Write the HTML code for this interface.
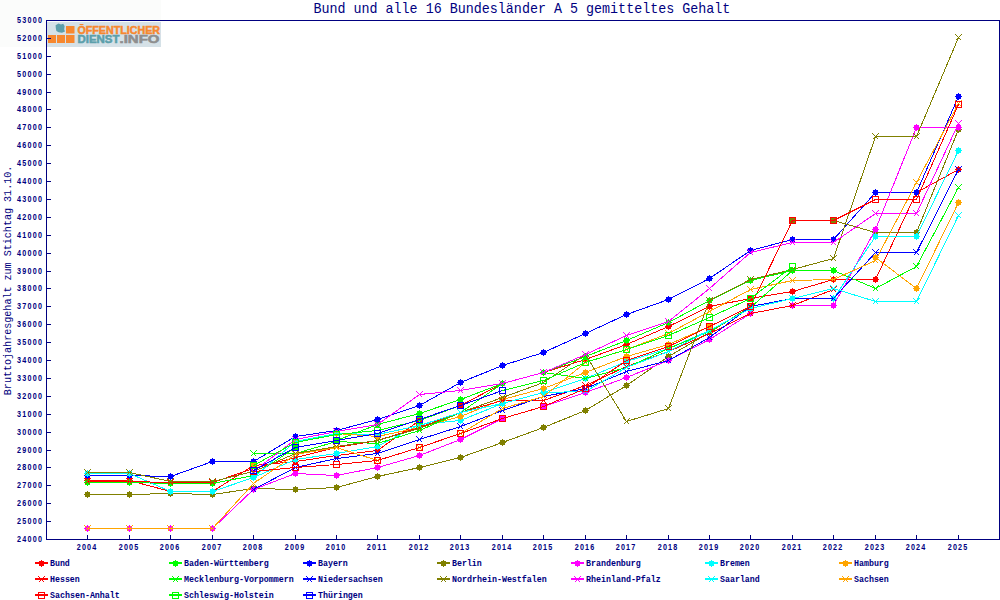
<!DOCTYPE html>
<html><head><meta charset="utf-8"><style>
html,body{margin:0;padding:0;background:#fff;}
body{width:1000px;height:600px;overflow:hidden;position:relative;}
svg{position:absolute;left:0;top:0;}
text{font-family:"Liberation Mono",monospace;fill:#000080;}
.ax{font-family:"Liberation Sans",sans-serif;font-weight:bold;font-size:9.2px;}
.lg{font-family:"Liberation Mono",monospace;font-weight:bold;font-size:8.4px;}
</style></head><body>
<svg width="1000" height="600" viewBox="0 0 1000 600" shape-rendering="crispEdges">
<rect x="0" y="0" width="1000" height="600" fill="#ffffff"/>
<rect x="0" y="0" width="161" height="47" fill="#fbfcfb"/>
<!-- logo -->
<g shape-rendering="auto">
<rect x="47" y="22" width="114" height="25" fill="#d5e1e7"/>
<rect x="48" y="35" width="8" height="8" fill="#f7882f"/>
<rect x="57" y="35" width="8" height="8" fill="#f7882f"/>
<rect x="66" y="35" width="8.5" height="8" fill="#f7882f"/>
<rect x="66" y="26" width="8.5" height="7.5" fill="#f7882f"/>
<path d="M55.6,25.2 L58.5,23.6 L61,24.4 L63.2,23.8 L64.6,26 L64.2,29.5 L65,31.6 L62,32.8 L58.6,32.2 L56.4,31 L55.8,28 Z" fill="#5c9fab"/>
<text x="77.5" y="33.6" style="font-family:'Liberation Sans',sans-serif;font-weight:bold;font-size:10.2px;fill:#f7882f;stroke:#f7882f;stroke-width:0.5px" textLength="82.5" lengthAdjust="spacingAndGlyphs">OFFENTLICHER</text>
<rect x="79.6" y="24" width="3.8" height="1.1" fill="#f7882f"/>
<text x="77.5" y="42.9" style="font-family:'Liberation Sans',sans-serif;font-weight:bold;font-size:10.2px;fill:#5c9fab;stroke:#5c9fab;stroke-width:0.5px" textLength="42" lengthAdjust="spacingAndGlyphs">DIENST</text>
<text x="119.5" y="42.9" style="font-family:'Liberation Sans',sans-serif;font-weight:bold;font-size:10.2px;fill:#8e8e8e;stroke:#8e8e8e;stroke-width:0.5px" textLength="40" lengthAdjust="spacingAndGlyphs">.INFO</text>
</g>
<!-- title -->
<text x="313.4" y="12.8" style="font-size:14.2px" textLength="417" lengthAdjust="spacingAndGlyphs">Bund und alle 16 Bundesländer A 5 gemitteltes Gehalt</text>
<!-- y axis title -->
<text transform="translate(11.2,395.2) rotate(-90)" x="0" y="0" style="font-size:11.6px" textLength="229.5" lengthAdjust="spacingAndGlyphs">Bruttojahresgehalt zum Stichtag 31.10.</text>
<!-- series -->
<g shape-rendering="crispEdges" stroke-width="1">
<polyline points="87.5,480.5 129.5,480.5 170.5,491.5 212.5,491.5 253.5,465.5 295.5,461.5 336.5,455.5 377.5,450.5 419.5,420.5 460.5,405.5 502.5,383.5 543.5,372.5 585.5,359.5 626.5,344.5 668.5,326.5 709.5,306.5 750.5,298.5 792.5,291.5 833.5,279.5 875.5,279.5 916.5,192.5 958.5,169.5" fill="none" stroke="#ff0000" stroke-width="1"/>
<path d="M87,477L88,477L88,478L90,478L90,480L91,480L91,481L90,481L90,483L88,483L88,484L87,484L87,483L85,483L85,481L84,481L84,480L85,480L85,478L87,478Z" fill="#ff0000"/>
<path d="M129,477L130,477L130,478L132,478L132,480L133,480L133,481L132,481L132,483L130,483L130,484L129,484L129,483L127,483L127,481L126,481L126,480L127,480L127,478L129,478Z" fill="#ff0000"/>
<path d="M170,488L171,488L171,489L173,489L173,491L174,491L174,492L173,492L173,494L171,494L171,495L170,495L170,494L168,494L168,492L167,492L167,491L168,491L168,489L170,489Z" fill="#ff0000"/>
<path d="M212,488L213,488L213,489L215,489L215,491L216,491L216,492L215,492L215,494L213,494L213,495L212,495L212,494L210,494L210,492L209,492L209,491L210,491L210,489L212,489Z" fill="#ff0000"/>
<path d="M253,462L254,462L254,463L256,463L256,465L257,465L257,466L256,466L256,468L254,468L254,469L253,469L253,468L251,468L251,466L250,466L250,465L251,465L251,463L253,463Z" fill="#ff0000"/>
<path d="M295,458L296,458L296,459L298,459L298,461L299,461L299,462L298,462L298,464L296,464L296,465L295,465L295,464L293,464L293,462L292,462L292,461L293,461L293,459L295,459Z" fill="#ff0000"/>
<path d="M336,452L337,452L337,453L339,453L339,455L340,455L340,456L339,456L339,458L337,458L337,459L336,459L336,458L334,458L334,456L333,456L333,455L334,455L334,453L336,453Z" fill="#ff0000"/>
<path d="M377,447L378,447L378,448L380,448L380,450L381,450L381,451L380,451L380,453L378,453L378,454L377,454L377,453L375,453L375,451L374,451L374,450L375,450L375,448L377,448Z" fill="#ff0000"/>
<path d="M419,417L420,417L420,418L422,418L422,420L423,420L423,421L422,421L422,423L420,423L420,424L419,424L419,423L417,423L417,421L416,421L416,420L417,420L417,418L419,418Z" fill="#ff0000"/>
<path d="M460,402L461,402L461,403L463,403L463,405L464,405L464,406L463,406L463,408L461,408L461,409L460,409L460,408L458,408L458,406L457,406L457,405L458,405L458,403L460,403Z" fill="#ff0000"/>
<path d="M502,380L503,380L503,381L505,381L505,383L506,383L506,384L505,384L505,386L503,386L503,387L502,387L502,386L500,386L500,384L499,384L499,383L500,383L500,381L502,381Z" fill="#ff0000"/>
<path d="M543,369L544,369L544,370L546,370L546,372L547,372L547,373L546,373L546,375L544,375L544,376L543,376L543,375L541,375L541,373L540,373L540,372L541,372L541,370L543,370Z" fill="#ff0000"/>
<path d="M585,356L586,356L586,357L588,357L588,359L589,359L589,360L588,360L588,362L586,362L586,363L585,363L585,362L583,362L583,360L582,360L582,359L583,359L583,357L585,357Z" fill="#ff0000"/>
<path d="M626,341L627,341L627,342L629,342L629,344L630,344L630,345L629,345L629,347L627,347L627,348L626,348L626,347L624,347L624,345L623,345L623,344L624,344L624,342L626,342Z" fill="#ff0000"/>
<path d="M668,323L669,323L669,324L671,324L671,326L672,326L672,327L671,327L671,329L669,329L669,330L668,330L668,329L666,329L666,327L665,327L665,326L666,326L666,324L668,324Z" fill="#ff0000"/>
<path d="M709,303L710,303L710,304L712,304L712,306L713,306L713,307L712,307L712,309L710,309L710,310L709,310L709,309L707,309L707,307L706,307L706,306L707,306L707,304L709,304Z" fill="#ff0000"/>
<path d="M750,295L751,295L751,296L753,296L753,298L754,298L754,299L753,299L753,301L751,301L751,302L750,302L750,301L748,301L748,299L747,299L747,298L748,298L748,296L750,296Z" fill="#ff0000"/>
<path d="M792,288L793,288L793,289L795,289L795,291L796,291L796,292L795,292L795,294L793,294L793,295L792,295L792,294L790,294L790,292L789,292L789,291L790,291L790,289L792,289Z" fill="#ff0000"/>
<path d="M833,276L834,276L834,277L836,277L836,279L837,279L837,280L836,280L836,282L834,282L834,283L833,283L833,282L831,282L831,280L830,280L830,279L831,279L831,277L833,277Z" fill="#ff0000"/>
<path d="M875,276L876,276L876,277L878,277L878,279L879,279L879,280L878,280L878,282L876,282L876,283L875,283L875,282L873,282L873,280L872,280L872,279L873,279L873,277L875,277Z" fill="#ff0000"/>
<path d="M916,189L917,189L917,190L919,190L919,192L920,192L920,193L919,193L919,195L917,195L917,196L916,196L916,195L914,195L914,193L913,193L913,192L914,192L914,190L916,190Z" fill="#ff0000"/>
<path d="M958,166L959,166L959,167L961,167L961,169L962,169L962,170L961,170L961,172L959,172L959,173L958,173L958,172L956,172L956,170L955,170L955,169L956,169L956,167L958,167Z" fill="#ff0000"/>
<polyline points="87.5,482.5 129.5,482.5 170.5,483.5 212.5,483.5 253.5,475.5 295.5,447.5 336.5,440.5 377.5,424.5 419.5,413.5 460.5,399.5 502.5,383.5 543.5,372.5 585.5,356.5 626.5,340.5 668.5,322.5 709.5,300.5 750.5,280.5 792.5,270.5 833.5,270.5" fill="none" stroke="#00ff00" stroke-width="1"/>
<path d="M87,479L88,479L88,480L90,480L90,482L91,482L91,483L90,483L90,485L88,485L88,486L87,486L87,485L85,485L85,483L84,483L84,482L85,482L85,480L87,480Z" fill="#00ff00"/>
<path d="M129,479L130,479L130,480L132,480L132,482L133,482L133,483L132,483L132,485L130,485L130,486L129,486L129,485L127,485L127,483L126,483L126,482L127,482L127,480L129,480Z" fill="#00ff00"/>
<path d="M170,480L171,480L171,481L173,481L173,483L174,483L174,484L173,484L173,486L171,486L171,487L170,487L170,486L168,486L168,484L167,484L167,483L168,483L168,481L170,481Z" fill="#00ff00"/>
<path d="M212,480L213,480L213,481L215,481L215,483L216,483L216,484L215,484L215,486L213,486L213,487L212,487L212,486L210,486L210,484L209,484L209,483L210,483L210,481L212,481Z" fill="#00ff00"/>
<path d="M253,472L254,472L254,473L256,473L256,475L257,475L257,476L256,476L256,478L254,478L254,479L253,479L253,478L251,478L251,476L250,476L250,475L251,475L251,473L253,473Z" fill="#00ff00"/>
<path d="M295,444L296,444L296,445L298,445L298,447L299,447L299,448L298,448L298,450L296,450L296,451L295,451L295,450L293,450L293,448L292,448L292,447L293,447L293,445L295,445Z" fill="#00ff00"/>
<path d="M336,437L337,437L337,438L339,438L339,440L340,440L340,441L339,441L339,443L337,443L337,444L336,444L336,443L334,443L334,441L333,441L333,440L334,440L334,438L336,438Z" fill="#00ff00"/>
<path d="M377,421L378,421L378,422L380,422L380,424L381,424L381,425L380,425L380,427L378,427L378,428L377,428L377,427L375,427L375,425L374,425L374,424L375,424L375,422L377,422Z" fill="#00ff00"/>
<path d="M419,410L420,410L420,411L422,411L422,413L423,413L423,414L422,414L422,416L420,416L420,417L419,417L419,416L417,416L417,414L416,414L416,413L417,413L417,411L419,411Z" fill="#00ff00"/>
<path d="M460,396L461,396L461,397L463,397L463,399L464,399L464,400L463,400L463,402L461,402L461,403L460,403L460,402L458,402L458,400L457,400L457,399L458,399L458,397L460,397Z" fill="#00ff00"/>
<path d="M502,380L503,380L503,381L505,381L505,383L506,383L506,384L505,384L505,386L503,386L503,387L502,387L502,386L500,386L500,384L499,384L499,383L500,383L500,381L502,381Z" fill="#00ff00"/>
<path d="M543,369L544,369L544,370L546,370L546,372L547,372L547,373L546,373L546,375L544,375L544,376L543,376L543,375L541,375L541,373L540,373L540,372L541,372L541,370L543,370Z" fill="#00ff00"/>
<path d="M585,353L586,353L586,354L588,354L588,356L589,356L589,357L588,357L588,359L586,359L586,360L585,360L585,359L583,359L583,357L582,357L582,356L583,356L583,354L585,354Z" fill="#00ff00"/>
<path d="M626,337L627,337L627,338L629,338L629,340L630,340L630,341L629,341L629,343L627,343L627,344L626,344L626,343L624,343L624,341L623,341L623,340L624,340L624,338L626,338Z" fill="#00ff00"/>
<path d="M668,319L669,319L669,320L671,320L671,322L672,322L672,323L671,323L671,325L669,325L669,326L668,326L668,325L666,325L666,323L665,323L665,322L666,322L666,320L668,320Z" fill="#00ff00"/>
<path d="M709,297L710,297L710,298L712,298L712,300L713,300L713,301L712,301L712,303L710,303L710,304L709,304L709,303L707,303L707,301L706,301L706,300L707,300L707,298L709,298Z" fill="#00ff00"/>
<path d="M750,277L751,277L751,278L753,278L753,280L754,280L754,281L753,281L753,283L751,283L751,284L750,284L750,283L748,283L748,281L747,281L747,280L748,280L748,278L750,278Z" fill="#00ff00"/>
<path d="M792,267L793,267L793,268L795,268L795,270L796,270L796,271L795,271L795,273L793,273L793,274L792,274L792,273L790,273L790,271L789,271L789,270L790,270L790,268L792,268Z" fill="#00ff00"/>
<path d="M833,267L834,267L834,268L836,268L836,270L837,270L837,271L836,271L836,273L834,273L834,274L833,274L833,273L831,273L831,271L830,271L830,270L831,270L831,268L833,268Z" fill="#00ff00"/>
<polyline points="87.5,475.5 129.5,475.5 170.5,476.5 212.5,461.5 253.5,461.5 295.5,436.5 336.5,430.5 377.5,419.5 419.5,405.5 460.5,382.5 502.5,365.5 543.5,352.5 585.5,333.5 626.5,314.5 668.5,299.5 709.5,278.5 750.5,250.5 792.5,239.5 833.5,239.5 875.5,192.5 916.5,192.5 958.5,96.5" fill="none" stroke="#0000ff" stroke-width="1"/>
<path d="M87,472L88,472L88,473L90,473L90,475L91,475L91,476L90,476L90,478L88,478L88,479L87,479L87,478L85,478L85,476L84,476L84,475L85,475L85,473L87,473Z" fill="#0000ff"/>
<path d="M129,472L130,472L130,473L132,473L132,475L133,475L133,476L132,476L132,478L130,478L130,479L129,479L129,478L127,478L127,476L126,476L126,475L127,475L127,473L129,473Z" fill="#0000ff"/>
<path d="M170,473L171,473L171,474L173,474L173,476L174,476L174,477L173,477L173,479L171,479L171,480L170,480L170,479L168,479L168,477L167,477L167,476L168,476L168,474L170,474Z" fill="#0000ff"/>
<path d="M212,458L213,458L213,459L215,459L215,461L216,461L216,462L215,462L215,464L213,464L213,465L212,465L212,464L210,464L210,462L209,462L209,461L210,461L210,459L212,459Z" fill="#0000ff"/>
<path d="M253,458L254,458L254,459L256,459L256,461L257,461L257,462L256,462L256,464L254,464L254,465L253,465L253,464L251,464L251,462L250,462L250,461L251,461L251,459L253,459Z" fill="#0000ff"/>
<path d="M295,433L296,433L296,434L298,434L298,436L299,436L299,437L298,437L298,439L296,439L296,440L295,440L295,439L293,439L293,437L292,437L292,436L293,436L293,434L295,434Z" fill="#0000ff"/>
<path d="M336,427L337,427L337,428L339,428L339,430L340,430L340,431L339,431L339,433L337,433L337,434L336,434L336,433L334,433L334,431L333,431L333,430L334,430L334,428L336,428Z" fill="#0000ff"/>
<path d="M377,416L378,416L378,417L380,417L380,419L381,419L381,420L380,420L380,422L378,422L378,423L377,423L377,422L375,422L375,420L374,420L374,419L375,419L375,417L377,417Z" fill="#0000ff"/>
<path d="M419,402L420,402L420,403L422,403L422,405L423,405L423,406L422,406L422,408L420,408L420,409L419,409L419,408L417,408L417,406L416,406L416,405L417,405L417,403L419,403Z" fill="#0000ff"/>
<path d="M460,379L461,379L461,380L463,380L463,382L464,382L464,383L463,383L463,385L461,385L461,386L460,386L460,385L458,385L458,383L457,383L457,382L458,382L458,380L460,380Z" fill="#0000ff"/>
<path d="M502,362L503,362L503,363L505,363L505,365L506,365L506,366L505,366L505,368L503,368L503,369L502,369L502,368L500,368L500,366L499,366L499,365L500,365L500,363L502,363Z" fill="#0000ff"/>
<path d="M543,349L544,349L544,350L546,350L546,352L547,352L547,353L546,353L546,355L544,355L544,356L543,356L543,355L541,355L541,353L540,353L540,352L541,352L541,350L543,350Z" fill="#0000ff"/>
<path d="M585,330L586,330L586,331L588,331L588,333L589,333L589,334L588,334L588,336L586,336L586,337L585,337L585,336L583,336L583,334L582,334L582,333L583,333L583,331L585,331Z" fill="#0000ff"/>
<path d="M626,311L627,311L627,312L629,312L629,314L630,314L630,315L629,315L629,317L627,317L627,318L626,318L626,317L624,317L624,315L623,315L623,314L624,314L624,312L626,312Z" fill="#0000ff"/>
<path d="M668,296L669,296L669,297L671,297L671,299L672,299L672,300L671,300L671,302L669,302L669,303L668,303L668,302L666,302L666,300L665,300L665,299L666,299L666,297L668,297Z" fill="#0000ff"/>
<path d="M709,275L710,275L710,276L712,276L712,278L713,278L713,279L712,279L712,281L710,281L710,282L709,282L709,281L707,281L707,279L706,279L706,278L707,278L707,276L709,276Z" fill="#0000ff"/>
<path d="M750,247L751,247L751,248L753,248L753,250L754,250L754,251L753,251L753,253L751,253L751,254L750,254L750,253L748,253L748,251L747,251L747,250L748,250L748,248L750,248Z" fill="#0000ff"/>
<path d="M792,236L793,236L793,237L795,237L795,239L796,239L796,240L795,240L795,242L793,242L793,243L792,243L792,242L790,242L790,240L789,240L789,239L790,239L790,237L792,237Z" fill="#0000ff"/>
<path d="M833,236L834,236L834,237L836,237L836,239L837,239L837,240L836,240L836,242L834,242L834,243L833,243L833,242L831,242L831,240L830,240L830,239L831,239L831,237L833,237Z" fill="#0000ff"/>
<path d="M875,189L876,189L876,190L878,190L878,192L879,192L879,193L878,193L878,195L876,195L876,196L875,196L875,195L873,195L873,193L872,193L872,192L873,192L873,190L875,190Z" fill="#0000ff"/>
<path d="M916,189L917,189L917,190L919,190L919,192L920,192L920,193L919,193L919,195L917,195L917,196L916,196L916,195L914,195L914,193L913,193L913,192L914,192L914,190L916,190Z" fill="#0000ff"/>
<path d="M958,93L959,93L959,94L961,94L961,96L962,96L962,97L961,97L961,99L959,99L959,100L958,100L958,99L956,99L956,97L955,97L955,96L956,96L956,94L958,94Z" fill="#0000ff"/>
<polyline points="87.5,494.5 129.5,494.5 170.5,493.5 212.5,494.5 253.5,488.5 295.5,489.5 336.5,487.5 377.5,476.5 419.5,467.5 460.5,457.5 502.5,442.5 543.5,427.5 585.5,410.5 626.5,385.5 668.5,356.5 709.5,332.5 750.5,306.5 792.5,220.5 833.5,220.5 875.5,232.5 916.5,232.5 958.5,129.5" fill="none" stroke="#808000" stroke-width="1"/>
<path d="M87,491L88,491L88,492L90,492L90,494L91,494L91,495L90,495L90,497L88,497L88,498L87,498L87,497L85,497L85,495L84,495L84,494L85,494L85,492L87,492Z" fill="#808000"/>
<path d="M129,491L130,491L130,492L132,492L132,494L133,494L133,495L132,495L132,497L130,497L130,498L129,498L129,497L127,497L127,495L126,495L126,494L127,494L127,492L129,492Z" fill="#808000"/>
<path d="M170,490L171,490L171,491L173,491L173,493L174,493L174,494L173,494L173,496L171,496L171,497L170,497L170,496L168,496L168,494L167,494L167,493L168,493L168,491L170,491Z" fill="#808000"/>
<path d="M212,491L213,491L213,492L215,492L215,494L216,494L216,495L215,495L215,497L213,497L213,498L212,498L212,497L210,497L210,495L209,495L209,494L210,494L210,492L212,492Z" fill="#808000"/>
<path d="M253,485L254,485L254,486L256,486L256,488L257,488L257,489L256,489L256,491L254,491L254,492L253,492L253,491L251,491L251,489L250,489L250,488L251,488L251,486L253,486Z" fill="#808000"/>
<path d="M295,486L296,486L296,487L298,487L298,489L299,489L299,490L298,490L298,492L296,492L296,493L295,493L295,492L293,492L293,490L292,490L292,489L293,489L293,487L295,487Z" fill="#808000"/>
<path d="M336,484L337,484L337,485L339,485L339,487L340,487L340,488L339,488L339,490L337,490L337,491L336,491L336,490L334,490L334,488L333,488L333,487L334,487L334,485L336,485Z" fill="#808000"/>
<path d="M377,473L378,473L378,474L380,474L380,476L381,476L381,477L380,477L380,479L378,479L378,480L377,480L377,479L375,479L375,477L374,477L374,476L375,476L375,474L377,474Z" fill="#808000"/>
<path d="M419,464L420,464L420,465L422,465L422,467L423,467L423,468L422,468L422,470L420,470L420,471L419,471L419,470L417,470L417,468L416,468L416,467L417,467L417,465L419,465Z" fill="#808000"/>
<path d="M460,454L461,454L461,455L463,455L463,457L464,457L464,458L463,458L463,460L461,460L461,461L460,461L460,460L458,460L458,458L457,458L457,457L458,457L458,455L460,455Z" fill="#808000"/>
<path d="M502,439L503,439L503,440L505,440L505,442L506,442L506,443L505,443L505,445L503,445L503,446L502,446L502,445L500,445L500,443L499,443L499,442L500,442L500,440L502,440Z" fill="#808000"/>
<path d="M543,424L544,424L544,425L546,425L546,427L547,427L547,428L546,428L546,430L544,430L544,431L543,431L543,430L541,430L541,428L540,428L540,427L541,427L541,425L543,425Z" fill="#808000"/>
<path d="M585,407L586,407L586,408L588,408L588,410L589,410L589,411L588,411L588,413L586,413L586,414L585,414L585,413L583,413L583,411L582,411L582,410L583,410L583,408L585,408Z" fill="#808000"/>
<path d="M626,382L627,382L627,383L629,383L629,385L630,385L630,386L629,386L629,388L627,388L627,389L626,389L626,388L624,388L624,386L623,386L623,385L624,385L624,383L626,383Z" fill="#808000"/>
<path d="M668,353L669,353L669,354L671,354L671,356L672,356L672,357L671,357L671,359L669,359L669,360L668,360L668,359L666,359L666,357L665,357L665,356L666,356L666,354L668,354Z" fill="#808000"/>
<path d="M709,329L710,329L710,330L712,330L712,332L713,332L713,333L712,333L712,335L710,335L710,336L709,336L709,335L707,335L707,333L706,333L706,332L707,332L707,330L709,330Z" fill="#808000"/>
<path d="M750,303L751,303L751,304L753,304L753,306L754,306L754,307L753,307L753,309L751,309L751,310L750,310L750,309L748,309L748,307L747,307L747,306L748,306L748,304L750,304Z" fill="#808000"/>
<path d="M792,217L793,217L793,218L795,218L795,220L796,220L796,221L795,221L795,223L793,223L793,224L792,224L792,223L790,223L790,221L789,221L789,220L790,220L790,218L792,218Z" fill="#808000"/>
<path d="M833,217L834,217L834,218L836,218L836,220L837,220L837,221L836,221L836,223L834,223L834,224L833,224L833,223L831,223L831,221L830,221L830,220L831,220L831,218L833,218Z" fill="#808000"/>
<path d="M875,229L876,229L876,230L878,230L878,232L879,232L879,233L878,233L878,235L876,235L876,236L875,236L875,235L873,235L873,233L872,233L872,232L873,232L873,230L875,230Z" fill="#808000"/>
<path d="M916,229L917,229L917,230L919,230L919,232L920,232L920,233L919,233L919,235L917,235L917,236L916,236L916,235L914,235L914,233L913,233L913,232L914,232L914,230L916,230Z" fill="#808000"/>
<path d="M958,126L959,126L959,127L961,127L961,129L962,129L962,130L961,130L961,132L959,132L959,133L958,133L958,132L956,132L956,130L955,130L955,129L956,129L956,127L958,127Z" fill="#808000"/>
<polyline points="87.5,528.5 129.5,528.5 170.5,528.5 212.5,528.5 253.5,489.5 295.5,473.5 336.5,475.5 377.5,467.5 419.5,455.5 460.5,439.5 502.5,418.5 543.5,406.5 585.5,392.5 626.5,377.5 668.5,360.5 709.5,339.5 750.5,313.5 792.5,305.5 833.5,305.5 875.5,229.5 916.5,127.5 958.5,127.5" fill="none" stroke="#ff00ff" stroke-width="1"/>
<path d="M87,525L88,525L88,526L90,526L90,528L91,528L91,529L90,529L90,531L88,531L88,532L87,532L87,531L85,531L85,529L84,529L84,528L85,528L85,526L87,526Z" fill="#ff00ff"/>
<path d="M129,525L130,525L130,526L132,526L132,528L133,528L133,529L132,529L132,531L130,531L130,532L129,532L129,531L127,531L127,529L126,529L126,528L127,528L127,526L129,526Z" fill="#ff00ff"/>
<path d="M170,525L171,525L171,526L173,526L173,528L174,528L174,529L173,529L173,531L171,531L171,532L170,532L170,531L168,531L168,529L167,529L167,528L168,528L168,526L170,526Z" fill="#ff00ff"/>
<path d="M212,525L213,525L213,526L215,526L215,528L216,528L216,529L215,529L215,531L213,531L213,532L212,532L212,531L210,531L210,529L209,529L209,528L210,528L210,526L212,526Z" fill="#ff00ff"/>
<path d="M253,486L254,486L254,487L256,487L256,489L257,489L257,490L256,490L256,492L254,492L254,493L253,493L253,492L251,492L251,490L250,490L250,489L251,489L251,487L253,487Z" fill="#ff00ff"/>
<path d="M295,470L296,470L296,471L298,471L298,473L299,473L299,474L298,474L298,476L296,476L296,477L295,477L295,476L293,476L293,474L292,474L292,473L293,473L293,471L295,471Z" fill="#ff00ff"/>
<path d="M336,472L337,472L337,473L339,473L339,475L340,475L340,476L339,476L339,478L337,478L337,479L336,479L336,478L334,478L334,476L333,476L333,475L334,475L334,473L336,473Z" fill="#ff00ff"/>
<path d="M377,464L378,464L378,465L380,465L380,467L381,467L381,468L380,468L380,470L378,470L378,471L377,471L377,470L375,470L375,468L374,468L374,467L375,467L375,465L377,465Z" fill="#ff00ff"/>
<path d="M419,452L420,452L420,453L422,453L422,455L423,455L423,456L422,456L422,458L420,458L420,459L419,459L419,458L417,458L417,456L416,456L416,455L417,455L417,453L419,453Z" fill="#ff00ff"/>
<path d="M460,436L461,436L461,437L463,437L463,439L464,439L464,440L463,440L463,442L461,442L461,443L460,443L460,442L458,442L458,440L457,440L457,439L458,439L458,437L460,437Z" fill="#ff00ff"/>
<path d="M502,415L503,415L503,416L505,416L505,418L506,418L506,419L505,419L505,421L503,421L503,422L502,422L502,421L500,421L500,419L499,419L499,418L500,418L500,416L502,416Z" fill="#ff00ff"/>
<path d="M543,403L544,403L544,404L546,404L546,406L547,406L547,407L546,407L546,409L544,409L544,410L543,410L543,409L541,409L541,407L540,407L540,406L541,406L541,404L543,404Z" fill="#ff00ff"/>
<path d="M585,389L586,389L586,390L588,390L588,392L589,392L589,393L588,393L588,395L586,395L586,396L585,396L585,395L583,395L583,393L582,393L582,392L583,392L583,390L585,390Z" fill="#ff00ff"/>
<path d="M626,374L627,374L627,375L629,375L629,377L630,377L630,378L629,378L629,380L627,380L627,381L626,381L626,380L624,380L624,378L623,378L623,377L624,377L624,375L626,375Z" fill="#ff00ff"/>
<path d="M668,357L669,357L669,358L671,358L671,360L672,360L672,361L671,361L671,363L669,363L669,364L668,364L668,363L666,363L666,361L665,361L665,360L666,360L666,358L668,358Z" fill="#ff00ff"/>
<path d="M709,336L710,336L710,337L712,337L712,339L713,339L713,340L712,340L712,342L710,342L710,343L709,343L709,342L707,342L707,340L706,340L706,339L707,339L707,337L709,337Z" fill="#ff00ff"/>
<path d="M750,310L751,310L751,311L753,311L753,313L754,313L754,314L753,314L753,316L751,316L751,317L750,317L750,316L748,316L748,314L747,314L747,313L748,313L748,311L750,311Z" fill="#ff00ff"/>
<path d="M792,302L793,302L793,303L795,303L795,305L796,305L796,306L795,306L795,308L793,308L793,309L792,309L792,308L790,308L790,306L789,306L789,305L790,305L790,303L792,303Z" fill="#ff00ff"/>
<path d="M833,302L834,302L834,303L836,303L836,305L837,305L837,306L836,306L836,308L834,308L834,309L833,309L833,308L831,308L831,306L830,306L830,305L831,305L831,303L833,303Z" fill="#ff00ff"/>
<path d="M875,226L876,226L876,227L878,227L878,229L879,229L879,230L878,230L878,232L876,232L876,233L875,233L875,232L873,232L873,230L872,230L872,229L873,229L873,227L875,227Z" fill="#ff00ff"/>
<path d="M916,124L917,124L917,125L919,125L919,127L920,127L920,128L919,128L919,130L917,130L917,131L916,131L916,130L914,130L914,128L913,128L913,127L914,127L914,125L916,125Z" fill="#ff00ff"/>
<path d="M958,124L959,124L959,125L961,125L961,127L962,127L962,128L961,128L961,130L959,130L959,131L958,131L958,130L956,130L956,128L955,128L955,127L956,127L956,125L958,125Z" fill="#ff00ff"/>
<polyline points="87.5,473.5 129.5,473.5 170.5,491.5 212.5,491.5 253.5,477.5 295.5,459.5 336.5,453.5 377.5,446.5 419.5,424.5 460.5,420.5 502.5,403.5 543.5,392.5 585.5,378.5 626.5,361.5 668.5,348.5 709.5,330.5 750.5,308.5 792.5,298.5 833.5,298.5 875.5,236.5 916.5,236.5 958.5,150.5" fill="none" stroke="#00ffff" stroke-width="1"/>
<path d="M87,470L88,470L88,471L90,471L90,473L91,473L91,474L90,474L90,476L88,476L88,477L87,477L87,476L85,476L85,474L84,474L84,473L85,473L85,471L87,471Z" fill="#00ffff"/>
<path d="M129,470L130,470L130,471L132,471L132,473L133,473L133,474L132,474L132,476L130,476L130,477L129,477L129,476L127,476L127,474L126,474L126,473L127,473L127,471L129,471Z" fill="#00ffff"/>
<path d="M170,488L171,488L171,489L173,489L173,491L174,491L174,492L173,492L173,494L171,494L171,495L170,495L170,494L168,494L168,492L167,492L167,491L168,491L168,489L170,489Z" fill="#00ffff"/>
<path d="M212,488L213,488L213,489L215,489L215,491L216,491L216,492L215,492L215,494L213,494L213,495L212,495L212,494L210,494L210,492L209,492L209,491L210,491L210,489L212,489Z" fill="#00ffff"/>
<path d="M253,474L254,474L254,475L256,475L256,477L257,477L257,478L256,478L256,480L254,480L254,481L253,481L253,480L251,480L251,478L250,478L250,477L251,477L251,475L253,475Z" fill="#00ffff"/>
<path d="M295,456L296,456L296,457L298,457L298,459L299,459L299,460L298,460L298,462L296,462L296,463L295,463L295,462L293,462L293,460L292,460L292,459L293,459L293,457L295,457Z" fill="#00ffff"/>
<path d="M336,450L337,450L337,451L339,451L339,453L340,453L340,454L339,454L339,456L337,456L337,457L336,457L336,456L334,456L334,454L333,454L333,453L334,453L334,451L336,451Z" fill="#00ffff"/>
<path d="M377,443L378,443L378,444L380,444L380,446L381,446L381,447L380,447L380,449L378,449L378,450L377,450L377,449L375,449L375,447L374,447L374,446L375,446L375,444L377,444Z" fill="#00ffff"/>
<path d="M419,421L420,421L420,422L422,422L422,424L423,424L423,425L422,425L422,427L420,427L420,428L419,428L419,427L417,427L417,425L416,425L416,424L417,424L417,422L419,422Z" fill="#00ffff"/>
<path d="M460,417L461,417L461,418L463,418L463,420L464,420L464,421L463,421L463,423L461,423L461,424L460,424L460,423L458,423L458,421L457,421L457,420L458,420L458,418L460,418Z" fill="#00ffff"/>
<path d="M502,400L503,400L503,401L505,401L505,403L506,403L506,404L505,404L505,406L503,406L503,407L502,407L502,406L500,406L500,404L499,404L499,403L500,403L500,401L502,401Z" fill="#00ffff"/>
<path d="M543,389L544,389L544,390L546,390L546,392L547,392L547,393L546,393L546,395L544,395L544,396L543,396L543,395L541,395L541,393L540,393L540,392L541,392L541,390L543,390Z" fill="#00ffff"/>
<path d="M585,375L586,375L586,376L588,376L588,378L589,378L589,379L588,379L588,381L586,381L586,382L585,382L585,381L583,381L583,379L582,379L582,378L583,378L583,376L585,376Z" fill="#00ffff"/>
<path d="M626,358L627,358L627,359L629,359L629,361L630,361L630,362L629,362L629,364L627,364L627,365L626,365L626,364L624,364L624,362L623,362L623,361L624,361L624,359L626,359Z" fill="#00ffff"/>
<path d="M668,345L669,345L669,346L671,346L671,348L672,348L672,349L671,349L671,351L669,351L669,352L668,352L668,351L666,351L666,349L665,349L665,348L666,348L666,346L668,346Z" fill="#00ffff"/>
<path d="M709,327L710,327L710,328L712,328L712,330L713,330L713,331L712,331L712,333L710,333L710,334L709,334L709,333L707,333L707,331L706,331L706,330L707,330L707,328L709,328Z" fill="#00ffff"/>
<path d="M750,305L751,305L751,306L753,306L753,308L754,308L754,309L753,309L753,311L751,311L751,312L750,312L750,311L748,311L748,309L747,309L747,308L748,308L748,306L750,306Z" fill="#00ffff"/>
<path d="M792,295L793,295L793,296L795,296L795,298L796,298L796,299L795,299L795,301L793,301L793,302L792,302L792,301L790,301L790,299L789,299L789,298L790,298L790,296L792,296Z" fill="#00ffff"/>
<path d="M833,295L834,295L834,296L836,296L836,298L837,298L837,299L836,299L836,301L834,301L834,302L833,302L833,301L831,301L831,299L830,299L830,298L831,298L831,296L833,296Z" fill="#00ffff"/>
<path d="M875,233L876,233L876,234L878,234L878,236L879,236L879,237L878,237L878,239L876,239L876,240L875,240L875,239L873,239L873,237L872,237L872,236L873,236L873,234L875,234Z" fill="#00ffff"/>
<path d="M916,233L917,233L917,234L919,234L919,236L920,236L920,237L919,237L919,239L917,239L917,240L916,240L916,239L914,239L914,237L913,237L913,236L914,236L914,234L916,234Z" fill="#00ffff"/>
<path d="M958,147L959,147L959,148L961,148L961,150L962,150L962,151L961,151L961,153L959,153L959,154L958,154L958,153L956,153L956,151L955,151L955,150L956,150L956,148L958,148Z" fill="#00ffff"/>
<polyline points="253.5,465.5 295.5,442.5 336.5,433.5 377.5,436.5 419.5,427.5 460.5,416.5 502.5,399.5 543.5,388.5 585.5,372.5 626.5,356.5 668.5,344.5 709.5,326.5 750.5,306.5" fill="none" stroke="#ffa500" stroke-width="1"/>
<polyline points="875.5,257.5 916.5,288.5 958.5,202.5" fill="none" stroke="#ffa500" stroke-width="1"/>
<path d="M253,462L254,462L254,463L256,463L256,465L257,465L257,466L256,466L256,468L254,468L254,469L253,469L253,468L251,468L251,466L250,466L250,465L251,465L251,463L253,463Z" fill="#ffa500"/>
<path d="M295,439L296,439L296,440L298,440L298,442L299,442L299,443L298,443L298,445L296,445L296,446L295,446L295,445L293,445L293,443L292,443L292,442L293,442L293,440L295,440Z" fill="#ffa500"/>
<path d="M336,430L337,430L337,431L339,431L339,433L340,433L340,434L339,434L339,436L337,436L337,437L336,437L336,436L334,436L334,434L333,434L333,433L334,433L334,431L336,431Z" fill="#ffa500"/>
<path d="M377,433L378,433L378,434L380,434L380,436L381,436L381,437L380,437L380,439L378,439L378,440L377,440L377,439L375,439L375,437L374,437L374,436L375,436L375,434L377,434Z" fill="#ffa500"/>
<path d="M419,424L420,424L420,425L422,425L422,427L423,427L423,428L422,428L422,430L420,430L420,431L419,431L419,430L417,430L417,428L416,428L416,427L417,427L417,425L419,425Z" fill="#ffa500"/>
<path d="M460,413L461,413L461,414L463,414L463,416L464,416L464,417L463,417L463,419L461,419L461,420L460,420L460,419L458,419L458,417L457,417L457,416L458,416L458,414L460,414Z" fill="#ffa500"/>
<path d="M502,396L503,396L503,397L505,397L505,399L506,399L506,400L505,400L505,402L503,402L503,403L502,403L502,402L500,402L500,400L499,400L499,399L500,399L500,397L502,397Z" fill="#ffa500"/>
<path d="M543,385L544,385L544,386L546,386L546,388L547,388L547,389L546,389L546,391L544,391L544,392L543,392L543,391L541,391L541,389L540,389L540,388L541,388L541,386L543,386Z" fill="#ffa500"/>
<path d="M585,369L586,369L586,370L588,370L588,372L589,372L589,373L588,373L588,375L586,375L586,376L585,376L585,375L583,375L583,373L582,373L582,372L583,372L583,370L585,370Z" fill="#ffa500"/>
<path d="M626,353L627,353L627,354L629,354L629,356L630,356L630,357L629,357L629,359L627,359L627,360L626,360L626,359L624,359L624,357L623,357L623,356L624,356L624,354L626,354Z" fill="#ffa500"/>
<path d="M668,341L669,341L669,342L671,342L671,344L672,344L672,345L671,345L671,347L669,347L669,348L668,348L668,347L666,347L666,345L665,345L665,344L666,344L666,342L668,342Z" fill="#ffa500"/>
<path d="M709,323L710,323L710,324L712,324L712,326L713,326L713,327L712,327L712,329L710,329L710,330L709,330L709,329L707,329L707,327L706,327L706,326L707,326L707,324L709,324Z" fill="#ffa500"/>
<path d="M750,303L751,303L751,304L753,304L753,306L754,306L754,307L753,307L753,309L751,309L751,310L750,310L750,309L748,309L748,307L747,307L747,306L748,306L748,304L750,304Z" fill="#ffa500"/>
<path d="M875,254L876,254L876,255L878,255L878,257L879,257L879,258L878,258L878,260L876,260L876,261L875,261L875,260L873,260L873,258L872,258L872,257L873,257L873,255L875,255Z" fill="#ffa500"/>
<path d="M916,285L917,285L917,286L919,286L919,288L920,288L920,289L919,289L919,291L917,291L917,292L916,292L916,291L914,291L914,289L913,289L913,288L914,288L914,286L916,286Z" fill="#ffa500"/>
<path d="M958,199L959,199L959,200L961,200L961,202L962,202L962,203L961,203L961,205L959,205L959,206L958,206L958,205L956,205L956,203L955,203L955,202L956,202L956,200L958,200Z" fill="#ffa500"/>
<polyline points="87.5,481.5 129.5,481.5 170.5,482.5 212.5,482.5 253.5,468.5 295.5,457.5 336.5,447.5 377.5,440.5 419.5,427.5 460.5,412.5 502.5,400.5 543.5,400.5 585.5,385.5 626.5,366.5 668.5,351.5 709.5,333.5 750.5,313.5 792.5,305.5 833.5,289.5" fill="none" stroke="#ff0000" stroke-width="1"/>
<path d="M84.5,478.5L90.5,484.5M84.5,484.5L90.5,478.5" stroke="#ff0000" fill="none"/>
<path d="M126.5,478.5L132.5,484.5M126.5,484.5L132.5,478.5" stroke="#ff0000" fill="none"/>
<path d="M167.5,479.5L173.5,485.5M167.5,485.5L173.5,479.5" stroke="#ff0000" fill="none"/>
<path d="M209.5,479.5L215.5,485.5M209.5,485.5L215.5,479.5" stroke="#ff0000" fill="none"/>
<path d="M250.5,465.5L256.5,471.5M250.5,471.5L256.5,465.5" stroke="#ff0000" fill="none"/>
<path d="M292.5,454.5L298.5,460.5M292.5,460.5L298.5,454.5" stroke="#ff0000" fill="none"/>
<path d="M333.5,444.5L339.5,450.5M333.5,450.5L339.5,444.5" stroke="#ff0000" fill="none"/>
<path d="M374.5,437.5L380.5,443.5M374.5,443.5L380.5,437.5" stroke="#ff0000" fill="none"/>
<path d="M416.5,424.5L422.5,430.5M416.5,430.5L422.5,424.5" stroke="#ff0000" fill="none"/>
<path d="M457.5,409.5L463.5,415.5M457.5,415.5L463.5,409.5" stroke="#ff0000" fill="none"/>
<path d="M499.5,397.5L505.5,403.5M499.5,403.5L505.5,397.5" stroke="#ff0000" fill="none"/>
<path d="M540.5,397.5L546.5,403.5M540.5,403.5L546.5,397.5" stroke="#ff0000" fill="none"/>
<path d="M582.5,382.5L588.5,388.5M582.5,388.5L588.5,382.5" stroke="#ff0000" fill="none"/>
<path d="M623.5,363.5L629.5,369.5M623.5,369.5L629.5,363.5" stroke="#ff0000" fill="none"/>
<path d="M665.5,348.5L671.5,354.5M665.5,354.5L671.5,348.5" stroke="#ff0000" fill="none"/>
<path d="M706.5,330.5L712.5,336.5M706.5,336.5L712.5,330.5" stroke="#ff0000" fill="none"/>
<path d="M747.5,310.5L753.5,316.5M747.5,316.5L753.5,310.5" stroke="#ff0000" fill="none"/>
<path d="M789.5,302.5L795.5,308.5M789.5,308.5L795.5,302.5" stroke="#ff0000" fill="none"/>
<path d="M830.5,286.5L836.5,292.5M830.5,292.5L836.5,286.5" stroke="#ff0000" fill="none"/>
<polyline points="253.5,453.5 295.5,453.5 336.5,441.5 377.5,443.5 419.5,430.5 460.5,412.5 502.5,383.5 543.5,372.5 585.5,378.5 626.5,367.5 668.5,348.5 709.5,331.5 750.5,307.5 792.5,270.5 833.5,270.5 875.5,288.5 916.5,266.5 958.5,187.5" fill="none" stroke="#00ff00" stroke-width="1"/>
<path d="M250.5,450.5L256.5,456.5M250.5,456.5L256.5,450.5" stroke="#00ff00" fill="none"/>
<path d="M292.5,450.5L298.5,456.5M292.5,456.5L298.5,450.5" stroke="#00ff00" fill="none"/>
<path d="M333.5,438.5L339.5,444.5M333.5,444.5L339.5,438.5" stroke="#00ff00" fill="none"/>
<path d="M374.5,440.5L380.5,446.5M374.5,446.5L380.5,440.5" stroke="#00ff00" fill="none"/>
<path d="M416.5,427.5L422.5,433.5M416.5,433.5L422.5,427.5" stroke="#00ff00" fill="none"/>
<path d="M457.5,409.5L463.5,415.5M457.5,415.5L463.5,409.5" stroke="#00ff00" fill="none"/>
<path d="M499.5,380.5L505.5,386.5M499.5,386.5L505.5,380.5" stroke="#00ff00" fill="none"/>
<path d="M540.5,369.5L546.5,375.5M540.5,375.5L546.5,369.5" stroke="#00ff00" fill="none"/>
<path d="M582.5,375.5L588.5,381.5M582.5,381.5L588.5,375.5" stroke="#00ff00" fill="none"/>
<path d="M623.5,364.5L629.5,370.5M623.5,370.5L629.5,364.5" stroke="#00ff00" fill="none"/>
<path d="M665.5,345.5L671.5,351.5M665.5,351.5L671.5,345.5" stroke="#00ff00" fill="none"/>
<path d="M706.5,328.5L712.5,334.5M706.5,334.5L712.5,328.5" stroke="#00ff00" fill="none"/>
<path d="M747.5,304.5L753.5,310.5M747.5,310.5L753.5,304.5" stroke="#00ff00" fill="none"/>
<path d="M789.5,267.5L795.5,273.5M789.5,273.5L795.5,267.5" stroke="#00ff00" fill="none"/>
<path d="M830.5,267.5L836.5,273.5M830.5,273.5L836.5,267.5" stroke="#00ff00" fill="none"/>
<path d="M872.5,285.5L878.5,291.5M872.5,291.5L878.5,285.5" stroke="#00ff00" fill="none"/>
<path d="M913.5,263.5L919.5,269.5M913.5,269.5L919.5,263.5" stroke="#00ff00" fill="none"/>
<path d="M955.5,184.5L961.5,190.5M955.5,190.5L961.5,184.5" stroke="#00ff00" fill="none"/>
<polyline points="253.5,489.5 295.5,467.5 336.5,458.5 377.5,453.5 419.5,439.5 460.5,426.5 502.5,410.5 543.5,396.5 585.5,388.5 626.5,371.5 668.5,360.5 709.5,337.5 750.5,306.5 792.5,298.5 833.5,298.5 875.5,252.5 916.5,252.5 958.5,169.5" fill="none" stroke="#0000ff" stroke-width="1"/>
<path d="M250.5,486.5L256.5,492.5M250.5,492.5L256.5,486.5" stroke="#0000ff" fill="none"/>
<path d="M292.5,464.5L298.5,470.5M292.5,470.5L298.5,464.5" stroke="#0000ff" fill="none"/>
<path d="M333.5,455.5L339.5,461.5M333.5,461.5L339.5,455.5" stroke="#0000ff" fill="none"/>
<path d="M374.5,450.5L380.5,456.5M374.5,456.5L380.5,450.5" stroke="#0000ff" fill="none"/>
<path d="M416.5,436.5L422.5,442.5M416.5,442.5L422.5,436.5" stroke="#0000ff" fill="none"/>
<path d="M457.5,423.5L463.5,429.5M457.5,429.5L463.5,423.5" stroke="#0000ff" fill="none"/>
<path d="M499.5,407.5L505.5,413.5M499.5,413.5L505.5,407.5" stroke="#0000ff" fill="none"/>
<path d="M540.5,393.5L546.5,399.5M540.5,399.5L546.5,393.5" stroke="#0000ff" fill="none"/>
<path d="M582.5,385.5L588.5,391.5M582.5,391.5L588.5,385.5" stroke="#0000ff" fill="none"/>
<path d="M623.5,368.5L629.5,374.5M623.5,374.5L629.5,368.5" stroke="#0000ff" fill="none"/>
<path d="M665.5,357.5L671.5,363.5M665.5,363.5L671.5,357.5" stroke="#0000ff" fill="none"/>
<path d="M706.5,334.5L712.5,340.5M706.5,340.5L712.5,334.5" stroke="#0000ff" fill="none"/>
<path d="M747.5,303.5L753.5,309.5M747.5,309.5L753.5,303.5" stroke="#0000ff" fill="none"/>
<path d="M789.5,295.5L795.5,301.5M789.5,301.5L795.5,295.5" stroke="#0000ff" fill="none"/>
<path d="M830.5,295.5L836.5,301.5M830.5,301.5L836.5,295.5" stroke="#0000ff" fill="none"/>
<path d="M872.5,249.5L878.5,255.5M872.5,255.5L878.5,249.5" stroke="#0000ff" fill="none"/>
<path d="M913.5,249.5L919.5,255.5M913.5,255.5L919.5,249.5" stroke="#0000ff" fill="none"/>
<path d="M955.5,166.5L961.5,172.5M955.5,172.5L961.5,166.5" stroke="#0000ff" fill="none"/>
<polyline points="87.5,472.5 129.5,472.5 170.5,481.5 212.5,481.5 253.5,471.5 295.5,453.5 336.5,446.5 377.5,440.5 419.5,428.5 460.5,412.5 502.5,397.5 543.5,382.5 585.5,354.5 626.5,421.5 668.5,408.5 709.5,300.5 750.5,279.5 792.5,269.5 833.5,258.5 875.5,136.5 916.5,136.5 958.5,37.5" fill="none" stroke="#808000" stroke-width="1"/>
<path d="M84.5,469.5L90.5,475.5M84.5,475.5L90.5,469.5" stroke="#808000" fill="none"/>
<path d="M126.5,469.5L132.5,475.5M126.5,475.5L132.5,469.5" stroke="#808000" fill="none"/>
<path d="M167.5,478.5L173.5,484.5M167.5,484.5L173.5,478.5" stroke="#808000" fill="none"/>
<path d="M209.5,478.5L215.5,484.5M209.5,484.5L215.5,478.5" stroke="#808000" fill="none"/>
<path d="M250.5,468.5L256.5,474.5M250.5,474.5L256.5,468.5" stroke="#808000" fill="none"/>
<path d="M292.5,450.5L298.5,456.5M292.5,456.5L298.5,450.5" stroke="#808000" fill="none"/>
<path d="M333.5,443.5L339.5,449.5M333.5,449.5L339.5,443.5" stroke="#808000" fill="none"/>
<path d="M374.5,437.5L380.5,443.5M374.5,443.5L380.5,437.5" stroke="#808000" fill="none"/>
<path d="M416.5,425.5L422.5,431.5M416.5,431.5L422.5,425.5" stroke="#808000" fill="none"/>
<path d="M457.5,409.5L463.5,415.5M457.5,415.5L463.5,409.5" stroke="#808000" fill="none"/>
<path d="M499.5,394.5L505.5,400.5M499.5,400.5L505.5,394.5" stroke="#808000" fill="none"/>
<path d="M540.5,379.5L546.5,385.5M540.5,385.5L546.5,379.5" stroke="#808000" fill="none"/>
<path d="M582.5,351.5L588.5,357.5M582.5,357.5L588.5,351.5" stroke="#808000" fill="none"/>
<path d="M623.5,418.5L629.5,424.5M623.5,424.5L629.5,418.5" stroke="#808000" fill="none"/>
<path d="M665.5,405.5L671.5,411.5M665.5,411.5L671.5,405.5" stroke="#808000" fill="none"/>
<path d="M706.5,297.5L712.5,303.5M706.5,303.5L712.5,297.5" stroke="#808000" fill="none"/>
<path d="M747.5,276.5L753.5,282.5M747.5,282.5L753.5,276.5" stroke="#808000" fill="none"/>
<path d="M789.5,266.5L795.5,272.5M789.5,272.5L795.5,266.5" stroke="#808000" fill="none"/>
<path d="M830.5,255.5L836.5,261.5M830.5,261.5L836.5,255.5" stroke="#808000" fill="none"/>
<path d="M872.5,133.5L878.5,139.5M872.5,139.5L878.5,133.5" stroke="#808000" fill="none"/>
<path d="M913.5,133.5L919.5,139.5M913.5,139.5L919.5,133.5" stroke="#808000" fill="none"/>
<path d="M955.5,34.5L961.5,40.5M955.5,40.5L961.5,34.5" stroke="#808000" fill="none"/>
<polyline points="253.5,471.5 295.5,439.5 336.5,431.5 377.5,424.5 419.5,394.5 460.5,390.5 502.5,383.5 543.5,372.5 585.5,354.5 626.5,335.5 668.5,321.5 709.5,288.5 750.5,252.5 792.5,242.5 833.5,242.5 875.5,213.5 916.5,213.5 958.5,123.5" fill="none" stroke="#ff00ff" stroke-width="1"/>
<path d="M250.5,468.5L256.5,474.5M250.5,474.5L256.5,468.5" stroke="#ff00ff" fill="none"/>
<path d="M292.5,436.5L298.5,442.5M292.5,442.5L298.5,436.5" stroke="#ff00ff" fill="none"/>
<path d="M333.5,428.5L339.5,434.5M333.5,434.5L339.5,428.5" stroke="#ff00ff" fill="none"/>
<path d="M374.5,421.5L380.5,427.5M374.5,427.5L380.5,421.5" stroke="#ff00ff" fill="none"/>
<path d="M416.5,391.5L422.5,397.5M416.5,397.5L422.5,391.5" stroke="#ff00ff" fill="none"/>
<path d="M457.5,387.5L463.5,393.5M457.5,393.5L463.5,387.5" stroke="#ff00ff" fill="none"/>
<path d="M499.5,380.5L505.5,386.5M499.5,386.5L505.5,380.5" stroke="#ff00ff" fill="none"/>
<path d="M540.5,369.5L546.5,375.5M540.5,375.5L546.5,369.5" stroke="#ff00ff" fill="none"/>
<path d="M582.5,351.5L588.5,357.5M582.5,357.5L588.5,351.5" stroke="#ff00ff" fill="none"/>
<path d="M623.5,332.5L629.5,338.5M623.5,338.5L629.5,332.5" stroke="#ff00ff" fill="none"/>
<path d="M665.5,318.5L671.5,324.5M665.5,324.5L671.5,318.5" stroke="#ff00ff" fill="none"/>
<path d="M706.5,285.5L712.5,291.5M706.5,291.5L712.5,285.5" stroke="#ff00ff" fill="none"/>
<path d="M747.5,249.5L753.5,255.5M747.5,255.5L753.5,249.5" stroke="#ff00ff" fill="none"/>
<path d="M789.5,239.5L795.5,245.5M789.5,245.5L795.5,239.5" stroke="#ff00ff" fill="none"/>
<path d="M830.5,239.5L836.5,245.5M830.5,245.5L836.5,239.5" stroke="#ff00ff" fill="none"/>
<path d="M872.5,210.5L878.5,216.5M872.5,216.5L878.5,210.5" stroke="#ff00ff" fill="none"/>
<path d="M913.5,210.5L919.5,216.5M913.5,216.5L919.5,210.5" stroke="#ff00ff" fill="none"/>
<path d="M955.5,120.5L961.5,126.5M955.5,126.5L961.5,120.5" stroke="#ff00ff" fill="none"/>
<polyline points="253.5,477.5 295.5,441.5 336.5,433.5 377.5,434.5 419.5,425.5 460.5,412.5 502.5,403.5 543.5,392.5 585.5,391.5 626.5,367.5 668.5,351.5 709.5,330.5 750.5,308.5 792.5,298.5 833.5,288.5 875.5,301.5 916.5,301.5 958.5,215.5" fill="none" stroke="#00ffff" stroke-width="1"/>
<path d="M250.5,474.5L256.5,480.5M250.5,480.5L256.5,474.5" stroke="#00ffff" fill="none"/>
<path d="M292.5,438.5L298.5,444.5M292.5,444.5L298.5,438.5" stroke="#00ffff" fill="none"/>
<path d="M333.5,430.5L339.5,436.5M333.5,436.5L339.5,430.5" stroke="#00ffff" fill="none"/>
<path d="M374.5,431.5L380.5,437.5M374.5,437.5L380.5,431.5" stroke="#00ffff" fill="none"/>
<path d="M416.5,422.5L422.5,428.5M416.5,428.5L422.5,422.5" stroke="#00ffff" fill="none"/>
<path d="M457.5,409.5L463.5,415.5M457.5,415.5L463.5,409.5" stroke="#00ffff" fill="none"/>
<path d="M499.5,400.5L505.5,406.5M499.5,406.5L505.5,400.5" stroke="#00ffff" fill="none"/>
<path d="M540.5,389.5L546.5,395.5M540.5,395.5L546.5,389.5" stroke="#00ffff" fill="none"/>
<path d="M582.5,388.5L588.5,394.5M582.5,394.5L588.5,388.5" stroke="#00ffff" fill="none"/>
<path d="M623.5,364.5L629.5,370.5M623.5,370.5L629.5,364.5" stroke="#00ffff" fill="none"/>
<path d="M665.5,348.5L671.5,354.5M665.5,354.5L671.5,348.5" stroke="#00ffff" fill="none"/>
<path d="M706.5,327.5L712.5,333.5M706.5,333.5L712.5,327.5" stroke="#00ffff" fill="none"/>
<path d="M747.5,305.5L753.5,311.5M747.5,311.5L753.5,305.5" stroke="#00ffff" fill="none"/>
<path d="M789.5,295.5L795.5,301.5M789.5,301.5L795.5,295.5" stroke="#00ffff" fill="none"/>
<path d="M830.5,285.5L836.5,291.5M830.5,291.5L836.5,285.5" stroke="#00ffff" fill="none"/>
<path d="M872.5,298.5L878.5,304.5M872.5,304.5L878.5,298.5" stroke="#00ffff" fill="none"/>
<path d="M913.5,298.5L919.5,304.5M913.5,304.5L919.5,298.5" stroke="#00ffff" fill="none"/>
<path d="M955.5,212.5L961.5,218.5M955.5,218.5L961.5,212.5" stroke="#00ffff" fill="none"/>
<polyline points="87.5,528.5 129.5,528.5 170.5,528.5 212.5,528.5 253.5,483.5 295.5,454.5 336.5,447.5 377.5,460.5 419.5,447.5 460.5,433.5 502.5,408.5 543.5,396.5 585.5,362.5 626.5,349.5 668.5,333.5 709.5,311.5 750.5,289.5 792.5,280.5 833.5,279.5 875.5,260.5 916.5,182.5 958.5,103.5" fill="none" stroke="#ffa500" stroke-width="1"/>
<path d="M84.5,525.5L90.5,531.5M84.5,531.5L90.5,525.5" stroke="#ffa500" fill="none"/>
<path d="M126.5,525.5L132.5,531.5M126.5,531.5L132.5,525.5" stroke="#ffa500" fill="none"/>
<path d="M167.5,525.5L173.5,531.5M167.5,531.5L173.5,525.5" stroke="#ffa500" fill="none"/>
<path d="M209.5,525.5L215.5,531.5M209.5,531.5L215.5,525.5" stroke="#ffa500" fill="none"/>
<path d="M250.5,480.5L256.5,486.5M250.5,486.5L256.5,480.5" stroke="#ffa500" fill="none"/>
<path d="M292.5,451.5L298.5,457.5M292.5,457.5L298.5,451.5" stroke="#ffa500" fill="none"/>
<path d="M333.5,444.5L339.5,450.5M333.5,450.5L339.5,444.5" stroke="#ffa500" fill="none"/>
<path d="M374.5,457.5L380.5,463.5M374.5,463.5L380.5,457.5" stroke="#ffa500" fill="none"/>
<path d="M416.5,444.5L422.5,450.5M416.5,450.5L422.5,444.5" stroke="#ffa500" fill="none"/>
<path d="M457.5,430.5L463.5,436.5M457.5,436.5L463.5,430.5" stroke="#ffa500" fill="none"/>
<path d="M499.5,405.5L505.5,411.5M499.5,411.5L505.5,405.5" stroke="#ffa500" fill="none"/>
<path d="M540.5,393.5L546.5,399.5M540.5,399.5L546.5,393.5" stroke="#ffa500" fill="none"/>
<path d="M582.5,359.5L588.5,365.5M582.5,365.5L588.5,359.5" stroke="#ffa500" fill="none"/>
<path d="M623.5,346.5L629.5,352.5M623.5,352.5L629.5,346.5" stroke="#ffa500" fill="none"/>
<path d="M665.5,330.5L671.5,336.5M665.5,336.5L671.5,330.5" stroke="#ffa500" fill="none"/>
<path d="M706.5,308.5L712.5,314.5M706.5,314.5L712.5,308.5" stroke="#ffa500" fill="none"/>
<path d="M747.5,286.5L753.5,292.5M747.5,292.5L753.5,286.5" stroke="#ffa500" fill="none"/>
<path d="M789.5,277.5L795.5,283.5M789.5,283.5L795.5,277.5" stroke="#ffa500" fill="none"/>
<path d="M830.5,276.5L836.5,282.5M830.5,282.5L836.5,276.5" stroke="#ffa500" fill="none"/>
<path d="M872.5,257.5L878.5,263.5M872.5,263.5L878.5,257.5" stroke="#ffa500" fill="none"/>
<path d="M913.5,179.5L919.5,185.5M913.5,185.5L919.5,179.5" stroke="#ffa500" fill="none"/>
<path d="M955.5,100.5L961.5,106.5M955.5,106.5L961.5,100.5" stroke="#ffa500" fill="none"/>
<polyline points="253.5,471.5 295.5,467.5 336.5,464.5 377.5,460.5 419.5,447.5 460.5,433.5 502.5,418.5 543.5,406.5 585.5,388.5 626.5,360.5 668.5,346.5 709.5,326.5 750.5,306.5 792.5,220.5 833.5,220.5 875.5,199.5 916.5,199.5 958.5,104.5" fill="none" stroke="#ff0000" stroke-width="1"/>
<rect x="250.5" y="468.5" width="6" height="6" stroke="#ff0000" fill="none"/>
<rect x="292.5" y="464.5" width="6" height="6" stroke="#ff0000" fill="none"/>
<rect x="333.5" y="461.5" width="6" height="6" stroke="#ff0000" fill="none"/>
<rect x="374.5" y="457.5" width="6" height="6" stroke="#ff0000" fill="none"/>
<rect x="416.5" y="444.5" width="6" height="6" stroke="#ff0000" fill="none"/>
<rect x="457.5" y="430.5" width="6" height="6" stroke="#ff0000" fill="none"/>
<rect x="499.5" y="415.5" width="6" height="6" stroke="#ff0000" fill="none"/>
<rect x="540.5" y="403.5" width="6" height="6" stroke="#ff0000" fill="none"/>
<rect x="582.5" y="385.5" width="6" height="6" stroke="#ff0000" fill="none"/>
<rect x="623.5" y="357.5" width="6" height="6" stroke="#ff0000" fill="none"/>
<rect x="665.5" y="343.5" width="6" height="6" stroke="#ff0000" fill="none"/>
<rect x="706.5" y="323.5" width="6" height="6" stroke="#ff0000" fill="none"/>
<rect x="747.5" y="303.5" width="6" height="6" stroke="#ff0000" fill="none"/>
<rect x="789.5" y="217.5" width="6" height="6" stroke="#ff0000" fill="none"/>
<rect x="830.5" y="217.5" width="6" height="6" stroke="#ff0000" fill="none"/>
<rect x="872.5" y="196.5" width="6" height="6" stroke="#ff0000" fill="none"/>
<rect x="913.5" y="196.5" width="6" height="6" stroke="#ff0000" fill="none"/>
<rect x="955.5" y="101.5" width="6" height="6" stroke="#ff0000" fill="none"/>
<polyline points="253.5,465.5 295.5,442.5 336.5,434.5 377.5,430.5 419.5,420.5 460.5,405.5 502.5,390.5 543.5,380.5 585.5,362.5 626.5,349.5 668.5,335.5 709.5,317.5 750.5,298.5 792.5,266.5" fill="none" stroke="#00ff00" stroke-width="1"/>
<rect x="250.5" y="462.5" width="6" height="6" stroke="#00ff00" fill="none"/>
<rect x="292.5" y="439.5" width="6" height="6" stroke="#00ff00" fill="none"/>
<rect x="333.5" y="431.5" width="6" height="6" stroke="#00ff00" fill="none"/>
<rect x="374.5" y="427.5" width="6" height="6" stroke="#00ff00" fill="none"/>
<rect x="416.5" y="417.5" width="6" height="6" stroke="#00ff00" fill="none"/>
<rect x="457.5" y="402.5" width="6" height="6" stroke="#00ff00" fill="none"/>
<rect x="499.5" y="387.5" width="6" height="6" stroke="#00ff00" fill="none"/>
<rect x="540.5" y="377.5" width="6" height="6" stroke="#00ff00" fill="none"/>
<rect x="582.5" y="359.5" width="6" height="6" stroke="#00ff00" fill="none"/>
<rect x="623.5" y="346.5" width="6" height="6" stroke="#00ff00" fill="none"/>
<rect x="665.5" y="332.5" width="6" height="6" stroke="#00ff00" fill="none"/>
<rect x="706.5" y="314.5" width="6" height="6" stroke="#00ff00" fill="none"/>
<rect x="747.5" y="295.5" width="6" height="6" stroke="#00ff00" fill="none"/>
<rect x="789.5" y="263.5" width="6" height="6" stroke="#00ff00" fill="none"/>
<polyline points="253.5,470.5 295.5,447.5 336.5,440.5 377.5,433.5 419.5,419.5 460.5,405.5 502.5,390.5" fill="none" stroke="#0000ff" stroke-width="1"/>
<rect x="250.5" y="467.5" width="6" height="6" stroke="#0000ff" fill="none"/>
<rect x="292.5" y="444.5" width="6" height="6" stroke="#0000ff" fill="none"/>
<rect x="333.5" y="437.5" width="6" height="6" stroke="#0000ff" fill="none"/>
<rect x="374.5" y="430.5" width="6" height="6" stroke="#0000ff" fill="none"/>
<rect x="416.5" y="416.5" width="6" height="6" stroke="#0000ff" fill="none"/>
<rect x="457.5" y="402.5" width="6" height="6" stroke="#0000ff" fill="none"/>
<rect x="499.5" y="387.5" width="6" height="6" stroke="#0000ff" fill="none"/>
</g>
<!-- axes -->
<g stroke="#000080" stroke-width="1" fill="none">
<rect x="46.5" y="20.5" width="953" height="519"/>
</g>
<g stroke="#000080" stroke-width="1">
<line x1="46" y1="539.50" x2="51" y2="539.50"/><line x1="46" y1="521.50" x2="51" y2="521.50"/><line x1="46" y1="503.50" x2="51" y2="503.50"/><line x1="46" y1="485.50" x2="51" y2="485.50"/><line x1="46" y1="467.50" x2="51" y2="467.50"/><line x1="46" y1="450.50" x2="51" y2="450.50"/><line x1="46" y1="432.50" x2="51" y2="432.50"/><line x1="46" y1="414.50" x2="51" y2="414.50"/><line x1="46" y1="396.50" x2="51" y2="396.50"/><line x1="46" y1="378.50" x2="51" y2="378.50"/><line x1="46" y1="360.50" x2="51" y2="360.50"/><line x1="46" y1="342.50" x2="51" y2="342.50"/><line x1="46" y1="324.50" x2="51" y2="324.50"/><line x1="46" y1="306.50" x2="51" y2="306.50"/><line x1="46" y1="288.50" x2="51" y2="288.50"/><line x1="46" y1="271.50" x2="51" y2="271.50"/><line x1="46" y1="253.50" x2="51" y2="253.50"/><line x1="46" y1="235.50" x2="51" y2="235.50"/><line x1="46" y1="217.50" x2="51" y2="217.50"/><line x1="46" y1="199.50" x2="51" y2="199.50"/><line x1="46" y1="181.50" x2="51" y2="181.50"/><line x1="46" y1="163.50" x2="51" y2="163.50"/><line x1="46" y1="145.50" x2="51" y2="145.50"/><line x1="46" y1="127.50" x2="51" y2="127.50"/><line x1="46" y1="109.50" x2="51" y2="109.50"/><line x1="46" y1="92.50" x2="51" y2="92.50"/><line x1="46" y1="74.50" x2="51" y2="74.50"/><line x1="46" y1="56.50" x2="51" y2="56.50"/><line x1="46" y1="38.50" x2="51" y2="38.50"/><line x1="46" y1="20.50" x2="51" y2="20.50"/>
<line x1="87.5" y1="535" x2="87.5" y2="539"/><line x1="129.5" y1="535" x2="129.5" y2="539"/><line x1="170.5" y1="535" x2="170.5" y2="539"/><line x1="212.5" y1="535" x2="212.5" y2="539"/><line x1="253.5" y1="535" x2="253.5" y2="539"/><line x1="295.5" y1="535" x2="295.5" y2="539"/><line x1="336.5" y1="535" x2="336.5" y2="539"/><line x1="377.5" y1="535" x2="377.5" y2="539"/><line x1="419.5" y1="535" x2="419.5" y2="539"/><line x1="460.5" y1="535" x2="460.5" y2="539"/><line x1="502.5" y1="535" x2="502.5" y2="539"/><line x1="543.5" y1="535" x2="543.5" y2="539"/><line x1="585.5" y1="535" x2="585.5" y2="539"/><line x1="626.5" y1="535" x2="626.5" y2="539"/><line x1="668.5" y1="535" x2="668.5" y2="539"/><line x1="709.5" y1="535" x2="709.5" y2="539"/><line x1="750.5" y1="535" x2="750.5" y2="539"/><line x1="792.5" y1="535" x2="792.5" y2="539"/><line x1="833.5" y1="535" x2="833.5" y2="539"/><line x1="875.5" y1="535" x2="875.5" y2="539"/><line x1="916.5" y1="535" x2="916.5" y2="539"/><line x1="958.5" y1="535" x2="958.5" y2="539"/>
</g>
<g style="font-size:8.6px;font-weight:bold;font-family:'Liberation Sans',sans-serif">
<text class="ax" transform="scale(0.78,1)" x="53.85" y="542.10" text-anchor="end" textLength="32.05" lengthAdjust="spacing">24000</text><text class="ax" transform="scale(0.78,1)" x="53.85" y="524.10" text-anchor="end" textLength="32.05" lengthAdjust="spacing">25000</text><text class="ax" transform="scale(0.78,1)" x="53.85" y="506.10" text-anchor="end" textLength="32.05" lengthAdjust="spacing">26000</text><text class="ax" transform="scale(0.78,1)" x="53.85" y="488.10" text-anchor="end" textLength="32.05" lengthAdjust="spacing">27000</text><text class="ax" transform="scale(0.78,1)" x="53.85" y="470.10" text-anchor="end" textLength="32.05" lengthAdjust="spacing">28000</text><text class="ax" transform="scale(0.78,1)" x="53.85" y="453.10" text-anchor="end" textLength="32.05" lengthAdjust="spacing">29000</text><text class="ax" transform="scale(0.78,1)" x="53.85" y="435.10" text-anchor="end" textLength="32.05" lengthAdjust="spacing">30000</text><text class="ax" transform="scale(0.78,1)" x="53.85" y="417.10" text-anchor="end" textLength="32.05" lengthAdjust="spacing">31000</text><text class="ax" transform="scale(0.78,1)" x="53.85" y="399.10" text-anchor="end" textLength="32.05" lengthAdjust="spacing">32000</text><text class="ax" transform="scale(0.78,1)" x="53.85" y="381.10" text-anchor="end" textLength="32.05" lengthAdjust="spacing">33000</text><text class="ax" transform="scale(0.78,1)" x="53.85" y="363.10" text-anchor="end" textLength="32.05" lengthAdjust="spacing">34000</text><text class="ax" transform="scale(0.78,1)" x="53.85" y="345.10" text-anchor="end" textLength="32.05" lengthAdjust="spacing">35000</text><text class="ax" transform="scale(0.78,1)" x="53.85" y="327.10" text-anchor="end" textLength="32.05" lengthAdjust="spacing">36000</text><text class="ax" transform="scale(0.78,1)" x="53.85" y="309.10" text-anchor="end" textLength="32.05" lengthAdjust="spacing">37000</text><text class="ax" transform="scale(0.78,1)" x="53.85" y="291.10" text-anchor="end" textLength="32.05" lengthAdjust="spacing">38000</text><text class="ax" transform="scale(0.78,1)" x="53.85" y="274.10" text-anchor="end" textLength="32.05" lengthAdjust="spacing">39000</text><text class="ax" transform="scale(0.78,1)" x="53.85" y="256.10" text-anchor="end" textLength="32.05" lengthAdjust="spacing">40000</text><text class="ax" transform="scale(0.78,1)" x="53.85" y="238.10" text-anchor="end" textLength="32.05" lengthAdjust="spacing">41000</text><text class="ax" transform="scale(0.78,1)" x="53.85" y="220.10" text-anchor="end" textLength="32.05" lengthAdjust="spacing">42000</text><text class="ax" transform="scale(0.78,1)" x="53.85" y="202.10" text-anchor="end" textLength="32.05" lengthAdjust="spacing">43000</text><text class="ax" transform="scale(0.78,1)" x="53.85" y="184.10" text-anchor="end" textLength="32.05" lengthAdjust="spacing">44000</text><text class="ax" transform="scale(0.78,1)" x="53.85" y="166.10" text-anchor="end" textLength="32.05" lengthAdjust="spacing">45000</text><text class="ax" transform="scale(0.78,1)" x="53.85" y="148.10" text-anchor="end" textLength="32.05" lengthAdjust="spacing">46000</text><text class="ax" transform="scale(0.78,1)" x="53.85" y="130.10" text-anchor="end" textLength="32.05" lengthAdjust="spacing">47000</text><text class="ax" transform="scale(0.78,1)" x="53.85" y="112.10" text-anchor="end" textLength="32.05" lengthAdjust="spacing">48000</text><text class="ax" transform="scale(0.78,1)" x="53.85" y="95.10" text-anchor="end" textLength="32.05" lengthAdjust="spacing">49000</text><text class="ax" transform="scale(0.78,1)" x="53.85" y="77.10" text-anchor="end" textLength="32.05" lengthAdjust="spacing">50000</text><text class="ax" transform="scale(0.78,1)" x="53.85" y="59.10" text-anchor="end" textLength="32.05" lengthAdjust="spacing">51000</text><text class="ax" transform="scale(0.78,1)" x="53.85" y="41.10" text-anchor="end" textLength="32.05" lengthAdjust="spacing">52000</text><text class="ax" transform="scale(0.78,1)" x="53.85" y="23.10" text-anchor="end" textLength="32.05" lengthAdjust="spacing">53000</text>
<text class="ax" transform="scale(0.78,1)" x="110.90" y="549.8" text-anchor="middle" textLength="24.87" lengthAdjust="spacing">2004</text><text class="ax" transform="scale(0.78,1)" x="164.74" y="549.8" text-anchor="middle" textLength="24.87" lengthAdjust="spacing">2005</text><text class="ax" transform="scale(0.78,1)" x="217.31" y="549.8" text-anchor="middle" textLength="24.87" lengthAdjust="spacing">2006</text><text class="ax" transform="scale(0.78,1)" x="271.15" y="549.8" text-anchor="middle" textLength="24.87" lengthAdjust="spacing">2007</text><text class="ax" transform="scale(0.78,1)" x="323.72" y="549.8" text-anchor="middle" textLength="24.87" lengthAdjust="spacing">2008</text><text class="ax" transform="scale(0.78,1)" x="377.56" y="549.8" text-anchor="middle" textLength="24.87" lengthAdjust="spacing">2009</text><text class="ax" transform="scale(0.78,1)" x="430.13" y="549.8" text-anchor="middle" textLength="24.87" lengthAdjust="spacing">2010</text><text class="ax" transform="scale(0.78,1)" x="482.69" y="549.8" text-anchor="middle" textLength="24.87" lengthAdjust="spacing">2011</text><text class="ax" transform="scale(0.78,1)" x="536.54" y="549.8" text-anchor="middle" textLength="24.87" lengthAdjust="spacing">2012</text><text class="ax" transform="scale(0.78,1)" x="589.10" y="549.8" text-anchor="middle" textLength="24.87" lengthAdjust="spacing">2013</text><text class="ax" transform="scale(0.78,1)" x="642.95" y="549.8" text-anchor="middle" textLength="24.87" lengthAdjust="spacing">2014</text><text class="ax" transform="scale(0.78,1)" x="695.51" y="549.8" text-anchor="middle" textLength="24.87" lengthAdjust="spacing">2015</text><text class="ax" transform="scale(0.78,1)" x="749.36" y="549.8" text-anchor="middle" textLength="24.87" lengthAdjust="spacing">2016</text><text class="ax" transform="scale(0.78,1)" x="801.92" y="549.8" text-anchor="middle" textLength="24.87" lengthAdjust="spacing">2017</text><text class="ax" transform="scale(0.78,1)" x="855.77" y="549.8" text-anchor="middle" textLength="24.87" lengthAdjust="spacing">2018</text><text class="ax" transform="scale(0.78,1)" x="908.33" y="549.8" text-anchor="middle" textLength="24.87" lengthAdjust="spacing">2019</text><text class="ax" transform="scale(0.78,1)" x="960.90" y="549.8" text-anchor="middle" textLength="24.87" lengthAdjust="spacing">2020</text><text class="ax" transform="scale(0.78,1)" x="1014.74" y="549.8" text-anchor="middle" textLength="24.87" lengthAdjust="spacing">2021</text><text class="ax" transform="scale(0.78,1)" x="1067.31" y="549.8" text-anchor="middle" textLength="24.87" lengthAdjust="spacing">2022</text><text class="ax" transform="scale(0.78,1)" x="1121.15" y="549.8" text-anchor="middle" textLength="24.87" lengthAdjust="spacing">2023</text><text class="ax" transform="scale(0.78,1)" x="1173.72" y="549.8" text-anchor="middle" textLength="24.87" lengthAdjust="spacing">2024</text><text class="ax" transform="scale(0.78,1)" x="1227.56" y="549.8" text-anchor="middle" textLength="24.87" lengthAdjust="spacing">2025</text>
</g>
<g shape-rendering="crispEdges" stroke-width="1">
<rect x="35" y="562" width="13" height="2" fill="#ff0000"/><path d="M41,560L42,560L42,561L44,561L44,563L45,563L45,564L44,564L44,566L42,566L42,567L41,567L41,566L39,566L39,564L38,564L38,563L39,563L39,561L41,561Z" fill="#ff0000"/><text class="lg" x="50.0" y="565.7" textLength="19.8" lengthAdjust="spacingAndGlyphs">Bund</text><rect x="169" y="562" width="13" height="2" fill="#00ff00"/><path d="M175,560L176,560L176,561L178,561L178,563L179,563L179,564L178,564L178,566L176,566L176,567L175,567L175,566L173,566L173,564L172,564L172,563L173,563L173,561L175,561Z" fill="#00ff00"/><text class="lg" x="184.0" y="565.7" textLength="84.8" lengthAdjust="spacingAndGlyphs">Baden-Württemberg</text><rect x="303" y="562" width="13" height="2" fill="#0000ff"/><path d="M309,560L310,560L310,561L312,561L312,563L313,563L313,564L312,564L312,566L310,566L310,567L309,567L309,566L307,566L307,564L306,564L306,563L307,563L307,561L309,561Z" fill="#0000ff"/><text class="lg" x="318.0" y="565.7" textLength="29.8" lengthAdjust="spacingAndGlyphs">Bayern</text><rect x="437" y="562" width="13" height="2" fill="#808000"/><path d="M443,560L444,560L444,561L446,561L446,563L447,563L447,564L446,564L446,566L444,566L444,567L443,567L443,566L441,566L441,564L440,564L440,563L441,563L441,561L443,561Z" fill="#808000"/><text class="lg" x="452.0" y="565.7" textLength="29.8" lengthAdjust="spacingAndGlyphs">Berlin</text><rect x="571" y="562" width="13" height="2" fill="#ff00ff"/><path d="M577,560L578,560L578,561L580,561L580,563L581,563L581,564L580,564L580,566L578,566L578,567L577,567L577,566L575,566L575,564L574,564L574,563L575,563L575,561L577,561Z" fill="#ff00ff"/><text class="lg" x="586.0" y="565.7" textLength="54.8" lengthAdjust="spacingAndGlyphs">Brandenburg</text><rect x="705" y="562" width="13" height="2" fill="#00ffff"/><path d="M711,560L712,560L712,561L714,561L714,563L715,563L715,564L714,564L714,566L712,566L712,567L711,567L711,566L709,566L709,564L708,564L708,563L709,563L709,561L711,561Z" fill="#00ffff"/><text class="lg" x="720.0" y="565.7" textLength="29.8" lengthAdjust="spacingAndGlyphs">Bremen</text><rect x="839" y="562" width="13" height="2" fill="#ffa500"/><path d="M845,560L846,560L846,561L848,561L848,563L849,563L849,564L848,564L848,566L846,566L846,567L845,567L845,566L843,566L843,564L842,564L842,563L843,563L843,561L845,561Z" fill="#ffa500"/><text class="lg" x="854.0" y="565.7" textLength="34.8" lengthAdjust="spacingAndGlyphs">Hamburg</text><rect x="35" y="578" width="13" height="2" fill="#ff0000"/><path d="M38.5,576.5L44.5,582.5M38.5,582.5L44.5,576.5" stroke="#ff0000" fill="none"/><text class="lg" x="50.0" y="581.7" textLength="29.8" lengthAdjust="spacingAndGlyphs">Hessen</text><rect x="169" y="578" width="13" height="2" fill="#00ff00"/><path d="M172.5,576.5L178.5,582.5M172.5,582.5L178.5,576.5" stroke="#00ff00" fill="none"/><text class="lg" x="184.0" y="581.7" textLength="109.8" lengthAdjust="spacingAndGlyphs">Mecklenburg-Vorpommern</text><rect x="303" y="578" width="13" height="2" fill="#0000ff"/><path d="M306.5,576.5L312.5,582.5M306.5,582.5L312.5,576.5" stroke="#0000ff" fill="none"/><text class="lg" x="318.0" y="581.7" textLength="64.8" lengthAdjust="spacingAndGlyphs">Niedersachsen</text><rect x="437" y="578" width="13" height="2" fill="#808000"/><path d="M440.5,576.5L446.5,582.5M440.5,582.5L446.5,576.5" stroke="#808000" fill="none"/><text class="lg" x="452.0" y="581.7" textLength="94.8" lengthAdjust="spacingAndGlyphs">Nordrhein-Westfalen</text><rect x="571" y="578" width="13" height="2" fill="#ff00ff"/><path d="M574.5,576.5L580.5,582.5M574.5,582.5L580.5,576.5" stroke="#ff00ff" fill="none"/><text class="lg" x="586.0" y="581.7" textLength="74.8" lengthAdjust="spacingAndGlyphs">Rheinland-Pfalz</text><rect x="705" y="578" width="13" height="2" fill="#00ffff"/><path d="M708.5,576.5L714.5,582.5M708.5,582.5L714.5,576.5" stroke="#00ffff" fill="none"/><text class="lg" x="720.0" y="581.7" textLength="39.8" lengthAdjust="spacingAndGlyphs">Saarland</text><rect x="839" y="578" width="13" height="2" fill="#ffa500"/><path d="M842.5,576.5L848.5,582.5M842.5,582.5L848.5,576.5" stroke="#ffa500" fill="none"/><text class="lg" x="854.0" y="581.7" textLength="34.8" lengthAdjust="spacingAndGlyphs">Sachsen</text><rect x="35" y="594" width="13" height="2" fill="#ff0000"/><rect x="38.5" y="592.5" width="6" height="6" stroke="#ff0000" fill="none"/><text class="lg" x="50.0" y="597.7" textLength="69.8" lengthAdjust="spacingAndGlyphs">Sachsen-Anhalt</text><rect x="169" y="594" width="13" height="2" fill="#00ff00"/><rect x="172.5" y="592.5" width="6" height="6" stroke="#00ff00" fill="none"/><text class="lg" x="184.0" y="597.7" textLength="89.8" lengthAdjust="spacingAndGlyphs">Schleswig-Holstein</text><rect x="303" y="594" width="13" height="2" fill="#0000ff"/><rect x="306.5" y="592.5" width="6" height="6" stroke="#0000ff" fill="none"/><text class="lg" x="318.0" y="597.7" textLength="44.8" lengthAdjust="spacingAndGlyphs">Thüringen</text>
</g>
</svg>
</body></html>
